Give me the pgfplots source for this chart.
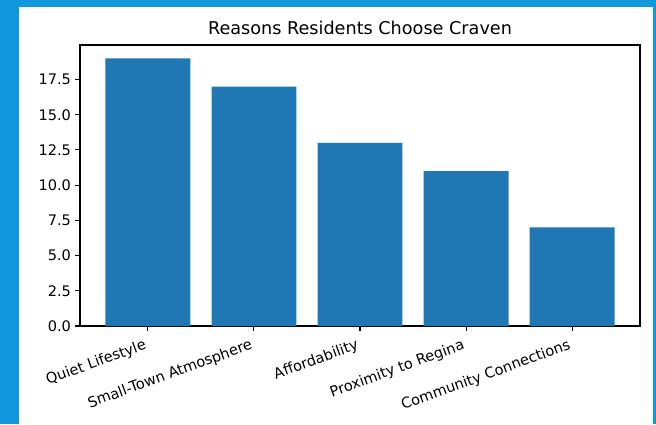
\documentclass[border=0pt]{standalone}
\usepackage{pgfplots}
\pgfplotsset{compat=1.18}
\usepackage{fontspec}
\setmainfont{DejaVu Sans}
\definecolor{frameblue}{HTML}{0F98DE}
\definecolor{barblue}{HTML}{1F77B4}
\begin{document}
\begin{tikzpicture}[x=1bp,y=1bp]
\fill[frameblue] (0,0) rectangle (656,424);
\fill[white] (19,0) rectangle (653,417);
\begin{axis}[
  at={(80bp,98bp)}, anchor=south west,
  width=560bp, height=281bp, scale only axis,
  xmin=-0.64, xmax=4.64, ymin=0, ymax=19.95,
  ybar, bar width=0.8, bar shift=0pt,
  xtick={0,1,2,3,4},
  xticklabels={Quiet Lifestyle,Small-Town Atmosphere,Affordability,Proximity to Regina,Community Connections},
  xticklabel style={xshift=-4bp, yshift=-6bp, rotate=20, anchor=north east, inner sep=1bp, font=\fontsize{14.6}{16}\selectfont},
  ytick={0,2.5,5,7.5,10,12.5,15,17.5},
  yticklabel style={font=\fontsize{14.6}{16}\selectfont, inner sep=1bp, xshift=-3bp},
  /pgf/number format/.cd, fixed, fixed zerofill, precision=1, assume math mode=true,
  /pgfplots/.cd,
  tick align=outside, major tick length=4.9bp, tick pos=left,
  tick style={line width=1.1bp, black},
  axis line style={line width=1.1bp},
  title={Reasons Residents Choose Craven},
  title style={font=\fontsize{17.7}{20}\selectfont, at={(0.5,1)}, anchor=south, inner sep=1bp, yshift=3bp},
]
\addplot[fill=barblue, draw=none] coordinates {(0,19) (1,17) (2,13) (3,11) (4,7)};
\end{axis}
\end{tikzpicture}
\end{document}
